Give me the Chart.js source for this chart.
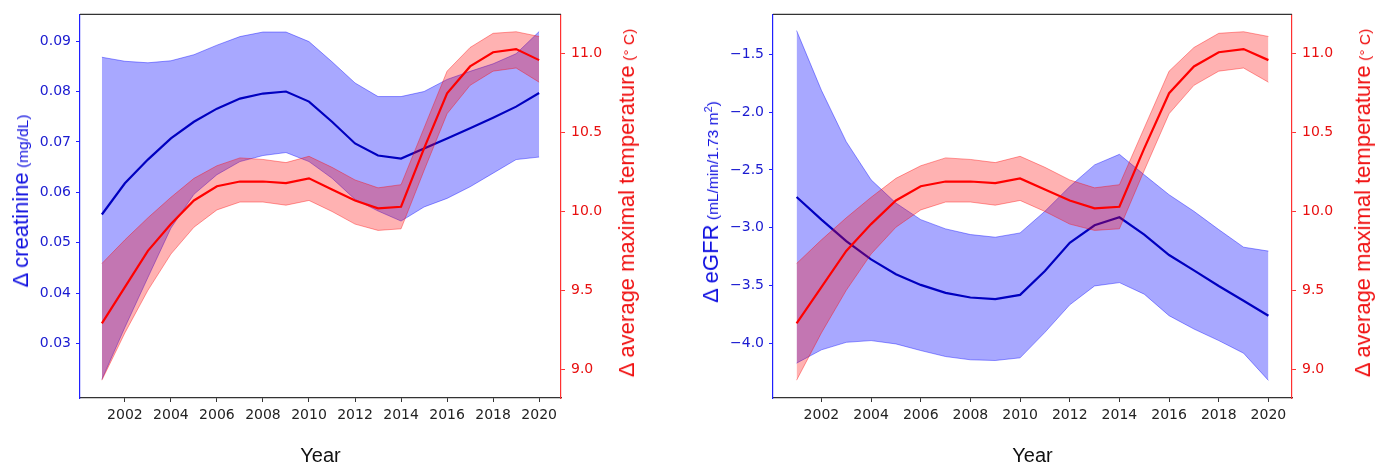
<!DOCTYPE html>
<html>
<head>
<meta charset="utf-8">
<script src="https://cdn.jsdelivr.net/npm/chart.js@4.4.1/dist/chart.umd.min.js"></script>
<style>
    body { margin: 0; background: #fff; }
    #wrap { position: relative; width: 1386px; height: 468px; overflow: hidden; }
    canvas { position: absolute; top: 0; }
    .ttl { position: absolute; white-space: nowrap; font-family: "Liberation Sans", Arial, sans-serif;
           transform: translate(-50%, -50%) rotate(-90deg); }
    .blue { color: #1010e0; }
    .red { color: #f01010; }
    .big { font-size: 22px; }
    .small { font-size: 15.5px; }
</style>
</head>
<body>
<div id="wrap">
    <canvas id="leftChart" width="620" height="468" style="left:0"></canvas>
    <canvas id="rightChart" width="693" height="468" style="left:693px"></canvas>
    <div class="ttl blue" style="left:21px; top:201px"><span class="big">Δ creatinine</span> <span class="small">(mg/dL)</span></div>
    <div class="ttl red" style="left:627px; top:203px"><span class="big">Δ average maximal temperature</span> <span class="small">(° C)</span></div>
    <div class="ttl blue" style="left:711px; top:202px"><span class="big">Δ eGFR</span> <span class="small">(mL/min/1.73 m<sup style="font-size:11px">2</sup>)</span></div>
    <div class="ttl red" style="left:1363px; top:203px"><span class="big">Δ average maximal temperature</span> <span class="small">(° C)</span></div>
</div>
<script>
// Data
const years = [2001, 2002, 2003, 2004, 2005, 2006, 2007, 2008, 2009, 2010,
               2011, 2012, 2013, 2014, 2015, 2016, 2017, 2018, 2019, 2020];

const creatMean  = [0.0556, 0.0618, 0.0665, 0.0707, 0.0740, 0.0766, 0.0786, 0.0796, 0.0800, 0.0780,
                    0.0740, 0.0697, 0.0673, 0.0667, 0.0687, 0.0707, 0.0727, 0.0748, 0.0770, 0.0797];
const creatUpper = [0.0868, 0.0860, 0.0857, 0.0861, 0.0873, 0.0892, 0.0909, 0.0918, 0.0918, 0.0899,
                    0.0859, 0.0817, 0.0790, 0.0790, 0.0800, 0.0824, 0.0840, 0.0855, 0.0875, 0.0919];
const creatLower = [0.0229, 0.0332, 0.0431, 0.0529, 0.0596, 0.0635, 0.0661, 0.0673, 0.0679, 0.0661,
                    0.0628, 0.0586, 0.0563, 0.0543, 0.0571, 0.0588, 0.0611, 0.0638, 0.0665, 0.0670];

const egfrMean  = [-2.734, -2.929, -3.115, -3.272, -3.401, -3.493, -3.562, -3.602, -3.616, -3.579,
                   -3.373, -3.129, -2.978, -2.909, -3.058, -3.235, -3.367, -3.502, -3.630, -3.759];
const egfrUpper = [-1.296, -1.812, -2.256, -2.585, -2.786, -2.929, -3.009, -3.058, -3.081, -3.044,
                   -2.857, -2.643, -2.456, -2.365, -2.542, -2.714, -2.857, -3.015, -3.167, -3.201];
const egfrLower = [-4.169, -4.054, -3.989, -3.974, -4.003, -4.060, -4.112, -4.140, -4.146, -4.123,
                   -3.903, -3.665, -3.502, -3.473, -3.573, -3.759, -3.874, -3.974, -4.083, -4.318];

const tempMean  = [9.29, 9.52, 9.75, 9.92, 10.07, 10.16, 10.19, 10.19, 10.18, 10.21,
                   10.14, 10.07, 10.02, 10.03, 10.40, 10.75, 10.92, 11.01, 11.03, 10.96];
const tempUpper = [9.67, 9.82, 9.96, 10.09, 10.21, 10.29, 10.34, 10.33, 10.31, 10.35,
                   10.28, 10.20, 10.15, 10.17, 10.53, 10.89, 11.04, 11.13, 11.14, 11.11];
const tempLower = [8.93, 9.23, 9.50, 9.73, 9.90, 10.01, 10.06, 10.06, 10.04, 10.07,
                   10.00, 9.92, 9.88, 9.89, 10.26, 10.62, 10.80, 10.89, 10.91, 10.82];

const yearTicks  = [2002, 2004, 2006, 2008, 2010, 2012, 2014, 2016, 2018, 2020];
const creatTicks = [0.03, 0.04, 0.05, 0.06, 0.07, 0.08, 0.09];
const egfrTicks  = [-4.0, -3.5, -3.0, -2.5, -2.0, -1.5];
const tempTicks  = [9.0, 9.5, 10.0, 10.5, 11.0];

const BLUE_LINE = '#0000c0';
const BLUE_FILL = 'rgba(0, 0, 255, 0.34)';
const BLUE_EDGE = 'rgba(0, 0, 255, 0.40)';
const RED_LINE = '#ff0000';
const RED_FILL = 'rgba(255, 0, 0, 0.30)';
const RED_EDGE = 'rgba(255, 0, 0, 0.38)';
const TICK_FONT = { family: '"DejaVu Sans", sans-serif', size: 14 };

function pts(values) {
    return values.map((v, i) => ({ x: years[i], y: v }));
}

function fixedTicks(list) {
    return scale => { scale.ticks = list.map(v => ({ value: v })); };
}

function fmt(v) {
    return (v < 0 ? '\u2212' : '') + Math.abs(v).toFixed(1);
}

// black top spine (matplotlib frame)
const topFrame = {
    id: 'topFrame',
    afterDraw(chart) {
        const { ctx, chartArea } = chart;
        ctx.save();
        ctx.strokeStyle = '#333';
        ctx.lineWidth = 1.2;
        ctx.beginPath();
        ctx.moveTo(chartArea.left, chartArea.top);
        ctx.lineTo(chartArea.right, chartArea.top);
        ctx.stroke();
        ctx.restore();
    }
};

function makeChart(id, opts) {
    const line = (data, axis, color, width, fill) => ({
        data: pts(data),
        yAxisID: axis,
        borderColor: color,
        borderWidth: width,
        backgroundColor: fill || 'transparent',
        fill: fill ? '+1' : false,
        pointRadius: 0,
        tension: 0
    });

    return new Chart(document.getElementById(id), {
        type: 'line',
        data: {
            datasets: [
                line(tempMean, 'y1', RED_LINE, 2.2),
                line(tempUpper, 'y1', RED_EDGE, 1, RED_FILL),
                line(tempLower, 'y1', RED_EDGE, 1),
                line(opts.mean, 'y', BLUE_LINE, 2.2),
                line(opts.upper, 'y', BLUE_EDGE, 1, BLUE_FILL),
                line(opts.lower, 'y', BLUE_EDGE, 1)
            ]
        },
        options: {
            responsive: false,
            animation: false,
            events: [],
            layout: { padding: { top: 12, left: 0, right: 0, bottom: 0 } },
            plugins: { legend: { display: false }, tooltip: { enabled: false } },
            scales: {
                x: {
                    type: 'linear',
                    min: 2000.05,
                    max: 2020.95,
                    afterBuildTicks: fixedTicks(yearTicks),
                    afterFit: s => { s.height = 70; },
                    border: { color: '#333', width: 1.2 },
                    grid: { drawOnChartArea: false, tickLength: 4, color: '#333' },
                    ticks: { color: '#222', font: TICK_FONT, padding: 5, maxRotation: 0,
                             callback: v => String(v) },
                    title: { display: true, text: 'Year', color: '#111', padding: { top: 0, bottom: 0 },
                             font: { family: '"Liberation Sans", Arial, sans-serif', size: 20 } }
                },
                y: {
                    position: 'left',
                    min: opts.min,
                    max: opts.max,
                    afterBuildTicks: fixedTicks(opts.ticks),
                    afterFit: s => { s.width = 80; },
                    border: { color: '#2020ff', width: 1.2 },
                    grid: { drawOnChartArea: false, tickLength: 4, color: '#2020ff' },
                    ticks: { color: '#1a1ad0', font: TICK_FONT, padding: 5, callback: opts.fmt }
                },
                y1: {
                    position: 'right',
                    min: 8.817,
                    max: 11.25,
                    afterBuildTicks: fixedTicks(tempTicks),
                    afterFit: s => { s.width = opts.rightWidth; },
                    border: { color: '#ff3030', width: 1.2 },
                    grid: { drawOnChartArea: false, tickLength: 4, color: '#ff3030' },
                    ticks: { color: '#e81010', font: TICK_FONT, padding: 6, callback: fmt }
                }
            }
        },
        plugins: [topFrame]
    });
}

makeChart('leftChart', {
    mean: creatMean, upper: creatUpper, lower: creatLower,
    min: 0.0192, max: 0.0953, ticks: creatTicks,
    fmt: v => v.toFixed(2),
    rightWidth: 620 - 561
});

makeChart('rightChart', {
    mean: egfrMean, upper: egfrUpper, lower: egfrLower,
    min: -4.47, max: -1.156, ticks: egfrTicks,
    fmt: fmt,
    rightWidth: 693 - 599
});
</script>
</body>
</html>
